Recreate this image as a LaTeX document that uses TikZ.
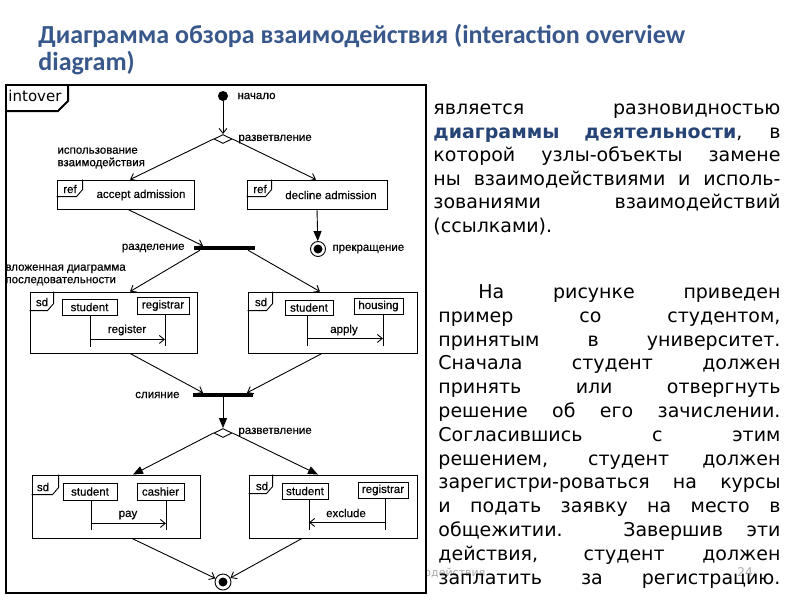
\documentclass[tikz,border=0pt]{standalone}
\usepackage{fontspec}
\setmainfont{DejaVu Sans}
\newfontfamily\arialf[FakeBold=0.4]{Liberation Sans}
\newfontfamily\titlef{Carlito}
\usetikzlibrary{arrows.meta,calc,shapes.geometric}
\definecolor{titleblue}{RGB}{56,88,140}
\definecolor{textblue}{RGB}{38,68,118}
\definecolor{footgray}{RGB}{170,170,170}
\newcommand\fragtab[3]{\draw (#1.north west) ++(#2,0) -- ++(0,{#3-7}) -- ++(-6,7) -- ++({6-#2},0);}
\begin{document}
\begin{tikzpicture}[x=1pt,y=-1pt,line width=0.9pt,
  lbl/.style={font=\arialf\fontsize{11.5}{13}\selectfont, inner sep=0},
  part/.style={draw, inner sep=0, font=\arialf\fontsize{11.5}{13}\selectfont},
  frag/.style={draw, inner sep=0},
  openarr/.style={-{Straight Barb[length=5pt,width=8pt]}},
  fillarr/.style={-{Triangle[length=10pt,width=8pt]}},
  syncbar/.style={fill=black, inner sep=0, minimum height=3.5pt},
  para/.style={anchor=north west, inner sep=0, align=justify, font=\fontsize{19}{23.6}\selectfont}]
\useasboundingbox (0,0) rectangle (800,600);
\fill[white] (0,0) rectangle (800,600);

% title
\node[anchor=north west, inner sep=0, align=left, text=titleblue, font=\titlef\bfseries\fontsize{26}{23}\selectfont] (title) at (38,23.5) {\strut Диаграмма обзора взаимодействия (interaction overview\\diagram)};

% footer
\node[anchor=west, inner sep=0, text=footgray, font=\fontsize{11}{13}\selectfont] (f1) at (424,573) {одействия};
\node[anchor=west, inner sep=0, text=footgray, font=\fontsize{12}{14}\selectfont] (f2) at (737,572) {24};

% frame
\draw[line width=2.2pt, fill=white] (6,85) rectangle (426,593);
\draw[line width=2pt] (6,111) -- (58,111) -- (68,101) -- (68,85);
\node[anchor=west, inner sep=0, font=\fontsize{15}{17}\selectfont] (intover) at (8,96) {intover};

% nodes
\node[circle, fill, inner sep=0, minimum size=10pt] (start) at (223,96) {};
\node[lbl, anchor=west] (lstart) at (237,96) {начало};
\node[diamond, draw, fill=white, inner sep=0, minimum width=18pt, minimum height=9pt] (d1) at (223,139) {};
\node[lbl, anchor=west] (ld1) at (238,139) {разветвление};
\node[lbl, anchor=west, align=left, font=\arialf\fontsize{11.5}{12.5}\selectfont] (luse) at (57,158) {использование\\взаимодействия};

\node[frag, minimum width=137pt, minimum height=29pt] (acc) at (125.5,194.5) {};
\fragtab{acc}{26}{17}
\node[lbl] (refa) at (70,189) {ref};
\node[lbl] (tacc) at (141,195) {accept admission};

\node[frag, minimum width=140pt, minimum height=29pt] (dec) at (317,194.5) {};
\fragtab{dec}{25}{17}
\node[lbl] (refd) at (260,189) {ref};
\node[lbl] (tdec) at (331,195) {decline admission};

\node[circle, draw, fill=white, inner sep=0, minimum size=15pt] (fin1) at (318,249) {};
\fill (fin1.center) circle[radius=4.5pt];
\node[lbl, anchor=west] (lfin1) at (332,249) {прекращение};

\node[syncbar, minimum width=61pt] (fork) at (224.5,248) {};
\node[lbl, anchor=east] (lfork) at (185,248) {разделение};
\node[lbl, anchor=west, align=left, font=\arialf\fontsize{11.5}{12.5}\selectfont] (lnest) at (5,275) {вложенная диаграмма\\последовательности};

% sd 1
\node[frag, minimum width=167pt, minimum height=61pt] (sd1) at (113.5,322.5) {};
\fragtab{sd1}{24}{19}
\node[lbl] (sdl1) at (42,302) {sd};
\node[part, minimum width=55pt, minimum height=16pt] (s1) at (89.5,307) {student};
\node[part, minimum width=52pt, minimum height=17pt] (r1) at (163,305.5) {registrar};
\coordinate (la1) at ($(s1.south)+(0.5,0)$);
\coordinate (lb1) at ($(r1.south)+(2,0)$);
\draw (la1) -- ++(0,32);
\draw (lb1) -- ++(0,32);
\coordinate (m1) at ($(la1)+(0,24)$);
\draw[openarr] (m1) -- (m1 -| lb1);
\node[lbl] (lm1) at (127,330) {register};

% sd 2
\node[frag, minimum width=169pt, minimum height=61pt] (sd2) at (332.5,322.5) {};
\fragtab{sd2}{25}{19}
\node[lbl] (sdl2) at (261,302) {sd};
\node[part, minimum width=48pt, minimum height=15pt] (s2) at (309,307.5) {student};
\node[part, minimum width=49pt, minimum height=16pt] (h2) at (378.5,306) {housing};
\coordinate (la2) at ($(s2.south)+(-2,0)$);
\coordinate (lb2) at ($(h2.south)+(4.5,0)$);
\draw (la2) -- ++(0,31);
\draw (lb2) -- ++(0,32);
\coordinate (m2) at ($(la2)+(0,23)$);
\draw[openarr] (m2) -- (m2 -| lb2);
\node[lbl] (lm2) at (344,330) {apply};

\node[syncbar, minimum width=60pt] (join) at (223,395) {};
\node[lbl, anchor=east] (ljoin) at (180,395) {слияние};
\node[diamond, draw, fill=white, inner sep=0, minimum width=18pt, minimum height=9pt] (d2) at (223,433) {};
\node[lbl, anchor=west] (ld2) at (238,432) {разветвление};

% sd 3
\node[frag, minimum width=168pt, minimum height=63pt] (sd3) at (116,506.5) {};
\fragtab{sd3}{27}{20}
\node[lbl] (sdl3) at (43,487) {sd};
\node[part, minimum width=54pt, minimum height=17pt] (s3) at (90,491.5) {student};
\node[part, minimum width=47pt, minimum height=17pt] (c3) at (160.5,491.5) {cashier};
\coordinate (la3) at ($(s3.south)+(1,0)$);
\coordinate (lb3) at ($(c3.south)+(5.5,0)$);
\draw (la3) -- ++(0,30);
\draw (lb3) -- ++(0,30);
\coordinate (m3) at ($(la3)+(0,23)$);
\draw[openarr] (m3) -- (m3 -| lb3);
\node[lbl] (lm3) at (128,515) {pay};

% sd 4
\node[frag, minimum width=168pt, minimum height=63pt] (sd4) at (333,506.5) {};
\fragtab{sd4}{24}{19}
\node[lbl] (sdl4) at (262,486) {sd};
\node[part, minimum width=46pt, minimum height=16pt] (s4) at (305,491) {student};
\node[part, minimum width=50pt, minimum height=16pt] (r4) at (383,490) {registrar};
\coordinate (la4) at ($(s4.south)+(4,0)$);
\coordinate (lb4) at ($(r4.south)+(2,0)$);
\draw (la4) -- ++(0,31);
\draw (lb4) -- ++(0,32);
\coordinate (m4) at ($(lb4)+(0,24)$);
\draw[openarr] (m4) -- (m4 -| la4);
\node[lbl] (lm4) at (346,513) {exclude};

\node[circle, draw, fill=white, inner sep=0, minimum size=16pt] (fin2) at (223,582) {};
\fill (fin2.center) circle[radius=4.5pt];

% connectors
\draw[openarr] (start) -- (d1);
\draw[openarr] (d1.west) -- ($(acc.north)+(4.5,0)$);
\draw[openarr] (d1.east) -- ($(dec.north)+(-1,0)$);
\draw[fillarr] (dec.south) -- (fin1);
\draw[openarr] ($(acc.south)+(2.5,0)$) -- ($(fork.north)+(-21.5,0)$);
\draw[openarr] ($(fork.south)+(-24.5,0)$) -- ($(sd1.north)+(16.5,0)$);
\draw[openarr] ($(fork.south)+(23.5,0)$) -- ($(sd2.north)+(-12.5,0)$);
\draw[openarr] ($(sd1.south)+(16.5,0)$) -- ($(join.north)+(-20,0)$);
\draw[openarr] ($(sd2.south)+(-10.5,0)$) -- ($(join.north)+(24,0)$);
\draw[fillarr] (join.south) -- (d2.north);
\draw[fillarr] (d2.west) -- ($(sd3.north)+(17,0)$);
\draw[fillarr] (d2.east) -- ($(sd4.north)+(-15,0)$);
\draw[openarr] ($(sd3.south)+(16,0)$) -- (fin2);
\draw[openarr] ($(sd4.south)+(-31,0)$) -- (fin2);

% right text
\node[para, text width=347pt] (p1) at (433,97.5) {\hyphenpenalty=10000\exhyphenpenalty=10000\strut является разновидностью\linebreak {\color{textblue}\bfseries диаграммы деятельности}, в\linebreak которой узлы-объекты замене\linebreak ны взаимодействиями и исполь-\linebreak зованиями взаимодействий\linebreak (ссылками).};
\node[para, text width=342pt, font=\fontsize{19}{23.8}\selectfont] (p2) at (438,281.3) {\hyphenpenalty=10000\exhyphenpenalty=10000\parfillskip=0pt\strut\hspace*{40pt}На рисунке приведен\linebreak пример со студентом,\linebreak принятым в университет.\linebreak Сначала студент должен\linebreak принять или отвергнуть\linebreak решение об его зачислении.\linebreak Согласившись с этим\linebreak решением, студент должен\linebreak зарегистри-роваться на курсы\linebreak и подать заявку на место в\linebreak общежитии. Завершив эти\linebreak действия, студент должен\linebreak заплатить за регистрацию.\par};
\end{tikzpicture}
\end{document}
